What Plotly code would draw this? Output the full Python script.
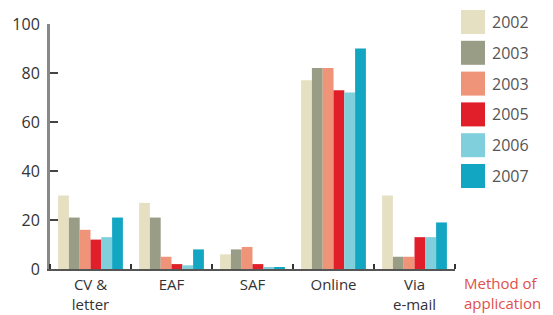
import plotly.graph_objects as go

categories = ["CV &<br>letter", "EAF", "SAF", "Online", "Via<br>e-mail"]
years = ["2002", "2003", "2003", "2005", "2006", "2007"]
colors = ["#e6e0c2", "#9a9d86", "#ef9479", "#e01f2a", "#7fd0dc", "#13a6c2"]
values = [
    [30, 27, 6, 77, 30],
    [21, 21, 8, 82, 5],
    [16, 5, 9, 82, 5],
    [12, 2, 2, 73, 13],
    [13, 1.5, 0.5, 72, 13],
    [21, 8, 0.5, 90, 19],
]
y_ticks = [0, 20, 40, 60, 80, 100]

FONT = "Open Sans"
x_pos = list(range(len(categories)))

# page body has an 8px margin; plot area targeted at window x 50..455, y 24..269
OFF = 8
PX0, PX1, PY0, PY1 = 50, 455, 24, 269
W, H = 553 - OFF, 315 - OFF
PW, PH = PX1 - PX0, PY1 - PY0


def px(x):
    return (x - PX0) / PW


def py(y):
    return (PY1 - y) / PH


fig = go.Figure()
for name, col, vals in zip(years, colors, values):
    fig.add_trace(go.Bar(x=x_pos, y=vals, name=name, marker=dict(color=col, line=dict(width=0)),
                         showlegend=False))

shapes = []
annotations = []
for i, (name, col) in enumerate(zip(years, colors)):
    y0 = 10 + i * 30.8
    y1 = y0 + 24
    shapes.append(dict(type="rect", xref="paper", yref="paper",
                       x0=px(461), x1=px(485), y0=py(y1), y1=py(y0),
                       fillcolor=col, line=dict(width=0)))
    annotations.append(dict(text=name, xref="paper", yref="paper",
                            x=px(490), y=py(y0 + 12),
                            xanchor="left", yanchor="middle", showarrow=False,
                            font=dict(family=FONT, size=16, color="#555555")))

annotations.append(dict(text="Method of<br>application", xref="paper", yref="paper",
                        x=px(462), y=py(271), xanchor="left", yanchor="top",
                        showarrow=False, align="left",
                        font=dict(family=FONT, size=15, color="#e0504a")))

fig.update_layout(
    width=W, height=H,
    margin=dict(l=PX0 - OFF, r=W - (PX1 - OFF), t=PY0 - OFF, b=H - (PY1 - OFF)),
    paper_bgcolor="white", plot_bgcolor="white",
    bargap=0.2, bargroupgap=0,
    barmode="group",
    shapes=shapes, annotations=annotations,
    font=dict(family=FONT, color="#333333"),
)
fig.update_xaxes(
    range=[-0.5, 4.5], tickmode="array", tickvals=x_pos, ticktext=categories,
    ticks="", showgrid=False, zeroline=False, automargin=False,
    showline=True, linecolor="#555555", linewidth=2,
    tickfont=dict(family=FONT, size=15, color="#333333"),
    ticklabelstandoff=1,
    minor=dict(tickmode="linear", tick0=0.5, dtick=1, ticks="inside", ticklen=5,
               tickcolor="#333333", tickwidth=1.5, showgrid=False),
)
fig.update_yaxes(
    range=[0, 100], tickmode="array", tickvals=y_ticks,
    ticks="inside", ticklen=8, tickcolor="#444444", tickwidth=2,
    showgrid=False, zeroline=False, automargin=False,
    showline=True, linecolor="#888888", linewidth=3,
    tickfont=dict(family=FONT, size=16, color="#333333"),
    ticklabelstandoff=4,
)

fig.write_html("out.html")
